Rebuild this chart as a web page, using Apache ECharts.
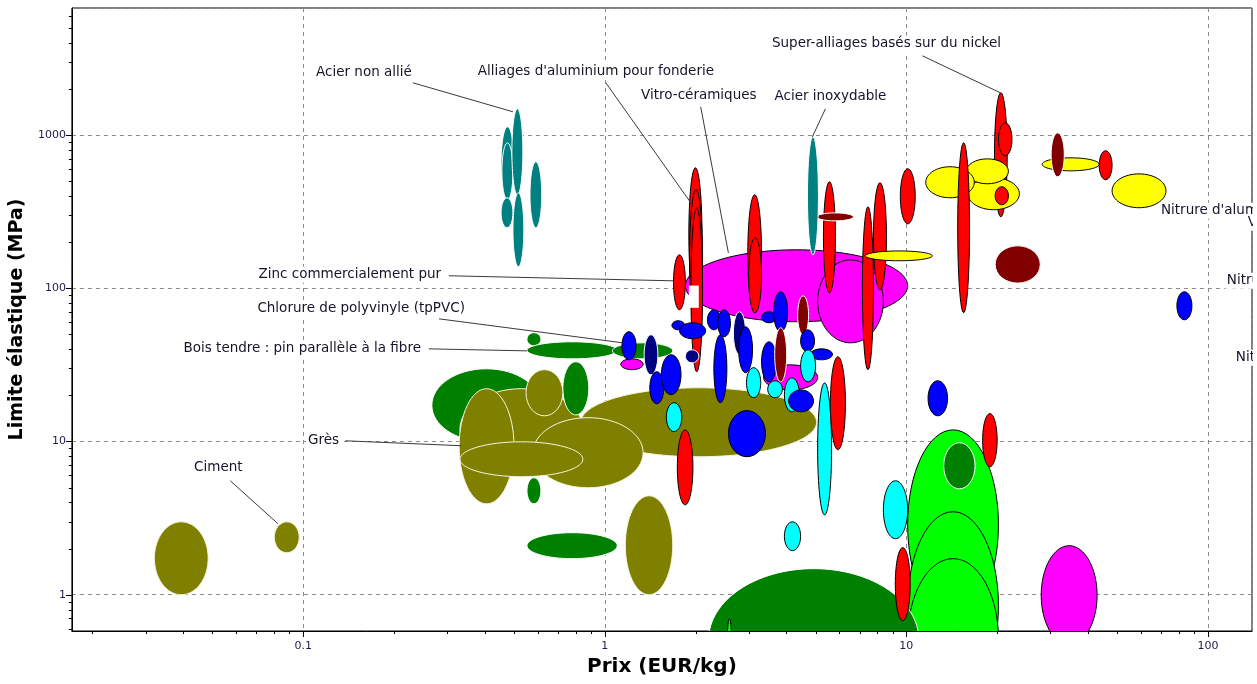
<!DOCTYPE html>
<html><head><meta charset="utf-8">
<script src="https://cdn.jsdelivr.net/npm/echarts@6/dist/echarts.min.js"></script>
<style>html,body{margin:0;padding:0;background:#fff}#c{width:1257px;height:684px}</style>
</head><body><div id="c"></div>
<script>
// ---- axis ranges and tick values ----
const X_MIN = 0.0171, X_MAX = 140;
const Y_MIN = 0.58, Y_MAX = 6730;
const xMajorTicks = [0.1, 1, 10, 100];
const yMajorTicks = [1, 10, 100, 1000];
const minorMultipliers = [2, 3, 4, 5, 6, 7, 8, 9];

// ---- material envelopes: [family, priceMin, priceMax, yieldMin, yieldMax] (back to front) ----
const mineralsNaturals = [
  ['mineral', 0.0321, 0.0484, 1.0, 2.99],
  ['mineral', 0.0802, 0.0970, 1.88, 2.99],
  ['naturel', 0.267, 0.614, 9.95, 29.8],
  ['mineral', 0.331, 0.846, 6.54, 22.1],
  ['mineral', 0.329, 0.500, 3.92, 22.1],
  ['naturel', 0.726, 0.885, 14.9, 33.1],
  ['mineral', 0.548, 0.726, 14.7, 29.4],
  ['mineral', 0.833, 5.04, 7.95, 22.4],
  ['mineral', 0.578, 1.34, 4.99, 14.3],
  ['mineral', 0.331, 0.846, 5.89, 9.95],
  ['naturel', 0.552, 0.614, 3.92, 5.80],
  ['naturel', 0.552, 1.10, 1.72, 2.54],
  ['mineral', 1.17, 1.68, 1.0, 4.42],
  ['naturel', 0.552, 0.614, 42.1, 51.2],
  ['naturel', 0.552, 1.10, 34.6, 44.7],
  ['naturel', 1.06, 1.68, 34.6, 44.0]
];
const foamsAndWoods = [
  ['mousse', 10.1, 20.2, 0.687, 11.9],
  ['mousse', 10.1, 20.2, 0.207, 3.48],
  ['mousse', 10.1, 20.2, 0.155, 1.72],
  ['naturel', 13.3, 16.9, 4.91, 9.81],
  ['naturel', 2.21, 11.0, 0.175, 1.48],
  ['mousse', 2.55, 2.63, 0.377, 0.697],
  ['metal', 9.19, 10.3, 0.677, 2.03],
  ['elastomere', 8.39, 10.1, 2.32, 5.54],
  ['elastomere', 3.94, 4.46, 1.94, 2.99],
  ['polymere', 11.8, 13.7, 14.7, 24.9],
  ['metal', 17.9, 20.0, 6.84, 15.2],
  ['verre', 28.0, 42.9, 0.472, 2.09]
];
const glassesMetals = [
  ['verre', 1.85, 10.1, 60.4, 178],
  ['verre', 5.08, 8.39, 44.0, 153],
  ['metal', 1.90, 2.10, 84, 610],
  ['metal', 1.91, 2.11, 53.5, 439],
  ['metal', 1.93, 2.11, 28.5, 334],
  ['metal', 1.69, 1.85, 72.3, 165],
  ['metal', 2.98, 3.31, 69.2, 407],
  ['metal', 3.00, 3.31, 69.2, 213],
  ['metal', 5.31, 5.82, 93.3, 494],
  ['metal', 7.15, 7.78, 29.4, 340],
  ['metal', 7.78, 8.59, 97.6, 487],
  ['metal', 9.55, 10.7, 263, 601],
  ['composite', 5.04, 6.68, 275, 310],
  ['ceramique', 7.31, 12.2, 151, 175],
  ['acier', 4.70, 5.11, 165, 972],
  ['zinc', 1.90, 2.05, 74.5, 104]
];
const steelsCluster = [
  ['acier', 0.453, 0.500, 377, 1130],
  ['acier', 0.456, 0.496, 377, 888],
  ['acier', 0.453, 0.496, 248, 389],
  ['acier', 0.492, 0.535, 407, 1479],
  ['acier', 0.496, 0.539, 138, 419],
  ['acier', 0.565, 0.618, 248, 668]
];
const hotEnd = [
  ['metal', 19.6, 21.6, 292, 1883],
  ['metal', 20.2, 22.4, 731, 1199],
  ['ceramique', 16.0, 23.7, 325, 525],
  ['ceramique', 15.8, 21.8, 480, 698],
  ['ceramique', 11.6, 16.8, 389, 620],
  ['metal', 14.8, 16.2, 69.2, 888],
  ['metal', 19.7, 21.8, 350, 459],
  ['ceramique', 28.2, 43.6, 583, 709],
  ['composite', 30.2, 33.4, 533, 1032],
  ['metal', 43.6, 48.1, 510, 788],
  ['ceramique', 48.1, 72.6, 335, 557],
  ['composite', 19.7, 27.8, 108, 189],
  ['polymere', 78.9, 88.5, 62.2, 94.8]
];
const polymersCluster = [
  ['verre', 3.36, 5.08, 21.7, 31.6],
  ['verre', 1.13, 1.34, 29.4, 34.6],
  ['polymere', 1.14, 1.27, 34.1, 52.0],
  ['polymereN', 1.35, 1.50, 27.2, 49.7],
  ['polymere', 1.41, 1.57, 17.6, 28.5],
  ['polymere', 1.54, 1.79, 20.2, 36.8],
  ['polymere', 1.67, 1.84, 53.5, 61.3],
  ['polymere', 1.77, 2.16, 46.8, 59.5],
  ['polymereN', 1.85, 2.05, 32.6, 39.6],
  ['polymere', 2.19, 2.42, 53.5, 72.3],
  ['polymere', 2.37, 2.61, 48.2, 72.3],
  ['polymere', 2.30, 2.54, 17.9, 49.7],
  ['polymereN', 2.67, 2.93, 36.8, 70.2],
  ['polymere', 2.78, 3.09, 28.1, 56.0],
  ['polymere', 3.31, 3.71, 59.5, 70.2],
  ['polymere', 3.63, 4.04, 52.0, 94.8],
  ['polymere', 3.31, 3.71, 24.5, 44.7],
  ['composite', 4.36, 4.74, 49.7, 89.2],
  ['composite', 3.66, 4.01, 24.5, 55.2],
  ['polymere', 4.46, 4.96, 38.5, 53.5],
  ['polymere', 4.81, 5.69, 34.1, 40.2],
  ['elastomere', 4.46, 5.00, 24.5, 39.6],
  ['elastomere', 2.95, 3.29, 19.3, 30.3],
  ['elastomere', 3.47, 3.88, 19.3, 24.9],
  ['elastomere', 3.94, 4.42, 15.6, 26.0],
  ['polymere', 4.07, 4.92, 15.6, 21.7],
  ['elastomere', 5.08, 5.65, 3.32, 24.1],
  ['metal', 5.60, 6.28, 8.83, 35.7],
  ['elastomere', 1.60, 1.80, 11.6, 17.9],
  ['polymere', 2.57, 3.41, 7.95, 15.9],
  ['metal', 1.74, 1.96, 3.86, 11.9]
];

// ---- annotations ----
const labelTexts = [
  "Acier non allié", "Alliages d'aluminium pour fonderie", "Vitro-céramiques", "Acier inoxydable",
  "Super-alliages basés sur du nickel", "Nitrure d'aluminium", "Verre", "Nitrure de silicium", "Nitrure de bore",
  "Zinc commercialement pur", "Chlorure de polyvinyle (tpPVC)", "Bois tendre : pin parallèle à la fibre",
  "Grès", "Ciment"
];
const labelAt = [
  [0.159, 2541], [0.934, 2582], [2.05, 1799], [5.60, 1773], [8.59, 3928], [68.8, 320], [133.6, 267],
  [113.8, 111.7], [121.9, 35.2], [0.291, 122.3], [0.349, 73.4], [0.2496, 40.2], [0.1336, 10.1], [0.0523, 6.74]
];
const leaderFrom = [
  [0.231, 2188], [1.008, 2188], [2.08, 1525], [5.39, 1480], [11.3, 3281], null, null, null, null,
  [0.304, 120.5], [0.282, 63.1], [0.261, 40.2], [0.138, 10.1], [0.0573, 5.54]
];
const leaderTo = [
  [0.496, 1415], [1.97, 340], [2.57, 170], [4.88, 972], [20.5, 1883], null, null, null, null,
  [1.69, 111.7], [1.147, 44.0], [0.552, 39.0], [0.334, 9.38], [0.0826, 2.90]
];

// ---- styling (not data) ----
const labelAlign = ['center','center','center','center','center','left','left','left','left','right','right','right','right','center'];
const familyStyle = {
  metal: { fill: '#ff0000', stroke: '#000000' },
  acier: { fill: '#008080', stroke: '#ffffff' },
  ceramique: { fill: '#ffff00', stroke: '#000000' },
  verre: { fill: '#ff00ff', stroke: '#000000' },
  polymere: { fill: '#0000ff', stroke: '#000000' },
  polymereN: { fill: '#000080', stroke: '#ffffff' },
  elastomere: { fill: '#00ffff', stroke: '#000000' },
  composite: { fill: '#800000', stroke: '#ffffff' },
  mousse: { fill: '#00ff00', stroke: '#000000' },
  naturel: { fill: '#008000', stroke: '#ffffff' },
  mineral: { fill: '#808000', stroke: '#f4f4dc' },
  zinc: { fill: '#ffffff', rect: true }
};

const allRows = [].concat(mineralsNaturals, foamsAndWoods, glassesMetals, steelsCluster, hotEnd, polymersCluster);
const families = allRows.map(r => r[0]);
const envData = allRows.map(r => [r[1], r[2], r[3], r[4]]);

// tick marks (major and minor, log positions)
const tickData = [];
[0.01, 0.1, 1, 10, 100].forEach(d => {
  if (xMajorTicks.indexOf(d) >= 0) tickData.push([d, Y_MIN, 0]);
  minorMultipliers.forEach(m => { const v = d * m; if (v > X_MIN && v < X_MAX) tickData.push([v, Y_MIN, 1]); });
});
[0.1, 1, 10, 100, 1000].forEach(d => {
  if (yMajorTicks.indexOf(d) >= 0) tickData.push([X_MIN, d, 2]);
  minorMultipliers.forEach(m => { const v = d * m; if (v > Y_MIN && v < Y_MAX) tickData.push([X_MIN, v, 3]); });
});

const FONT = 'DejaVu Sans';
const chart = echarts.init(document.getElementById('c'), null, { renderer: 'canvas' });
const fmt = v => String(+Number(v).toPrecision(4));

chart.setOption({
  animation: false,
  backgroundColor: '#ffffff',
  grid: { left: 70, right: 5, top: 8, bottom: 53, show: true, borderColor: '#000', borderWidth: 1, backgroundColor: 'transparent' },
  xAxis: {
    type: 'log', logBase: 10, min: X_MIN, max: X_MAX,
    name: 'Prix (EUR/kg)', nameLocation: 'middle', nameGap: 26,
    nameTextStyle: { fontFamily: FONT, fontWeight: 'bold', fontSize: 20, color: '#000' },
    axisLine: { show: true, lineStyle: { color: '#000', width: 1 } },
    axisTick: { show: false },
    minorTick: { show: false },
    splitLine: { show: true, lineStyle: { color: '#8a8a8a', type: [4, 4], width: 1 } },
    axisLabel: { show: true, showMinLabel: false, showMaxLabel: false, margin: 10, fontFamily: FONT, fontSize: 11, color: '#1c1c4c', formatter: fmt }
  },
  yAxis: {
    type: 'log', logBase: 10, min: Y_MIN, max: Y_MAX,
    name: 'Limite élastique (MPa)', nameLocation: 'middle', nameGap: 43,
    nameTextStyle: { fontFamily: FONT, fontWeight: 'bold', fontSize: 19, color: '#000' },
    axisLine: { show: true, lineStyle: { color: '#000', width: 1 } },
    axisTick: { show: false },
    minorTick: { show: false },
    splitLine: { show: true, lineStyle: { color: '#8a8a8a', type: [4, 4], width: 1 } },
    axisLabel: { show: true, showMinLabel: false, showMaxLabel: false, margin: 6, fontFamily: FONT, fontSize: 11, color: '#1c1c4c', formatter: fmt }
  },
  series: [
    {
      type: 'custom', name: 'envelopes', silent: true, clip: true,
      encode: { x: [0, 1], y: [2, 3] },
      data: envData,
      renderItem: function (params, api) {
        const a = api.coord([api.value(0), api.value(2)]);
        const b = api.coord([api.value(1), api.value(3)]);
        const st = familyStyle[families[params.dataIndex]];
        const cx = (a[0] + b[0]) / 2, cy = (a[1] + b[1]) / 2;
        const rx = Math.abs(b[0] - a[0]) / 2, ry = Math.abs(b[1] - a[1]) / 2;
        if (st.rect) {
          return { type: 'rect', shape: { x: cx - rx, y: cy - ry, width: 2 * rx, height: 2 * ry }, style: { fill: st.fill } };
        }
        return { type: 'ellipse', shape: { cx: cx, cy: cy, rx: rx, ry: ry }, style: { fill: st.fill, stroke: st.stroke, lineWidth: 1 } };
      }
    },
    {
      type: 'custom', name: 'ticks', silent: true, clip: false,
      encode: { x: 0, y: 1 },
      data: tickData,
      renderItem: function (params, api) {
        const cs = params.coordSys;
        const p = api.coord([api.value(0), api.value(1)]);
        const k = api.value(2);
        if (k < 2) {
          const len = k === 0 ? 6 : 3;
          const x = Math.round(p[0]) + 0.5, yb = cs.y + cs.height;
          return { type: 'line', shape: { x1: x, y1: yb, x2: x, y2: yb + len }, style: { stroke: '#000', lineWidth: 1 } };
        }
        const len = k === 2 ? 6 : 3;
        const y = Math.round(p[1]) + 0.5;
        return { type: 'line', shape: { x1: cs.x - len, y1: y, x2: cs.x, y2: y }, style: { stroke: '#000', lineWidth: 1 } };
      }
    },
    {
      type: 'custom', name: 'labels', silent: true, clip: true, z: 5,
      encode: { x: 0, y: 1 },
      data: labelAt,
      renderItem: function (params, api) {
        const i = params.dataIndex;
        const p = api.coord(labelAt[i]);
        const children = [];
        if (leaderFrom[i]) {
          const f = api.coord(leaderFrom[i]), t = api.coord(leaderTo[i]);
          children.push({ type: 'line', shape: { x1: f[0], y1: f[1], x2: t[0], y2: t[1] }, style: { stroke: '#3a3a3a', lineWidth: 1 } });
        }
        children.push({
          type: 'text', x: p[0], y: p[1],
          style: {
            text: labelTexts[i], fill: '#15152a', font: '13.5px "' + FONT + '"',
            textAlign: labelAlign[i], textVerticalAlign: 'middle',
            backgroundColor: '#ffffff', padding: [1, 2]
          }
        });
        return { type: 'group', children: children };
      }
    }
  ]
});
</script>
</body></html>
